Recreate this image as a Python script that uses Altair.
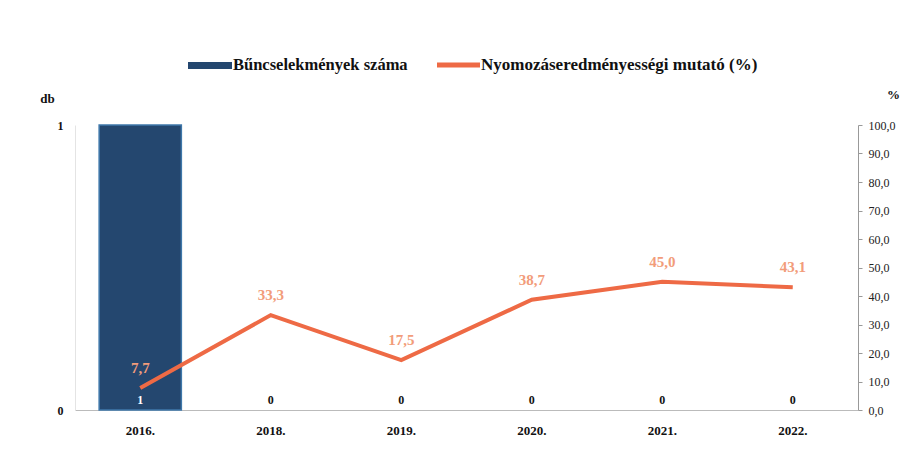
import altair as alt
import pandas as pd

years = ["2016.", "2018.", "2019.", "2020.", "2021.", "2022."]
crimes = [1, 0, 0, 0, 0, 0]
rate = [7.7, 33.3, 17.5, 38.7, 45.0, 43.1]
rate_labels = ["7,7", "33,3", "17,5", "38,7", "45,0", "43,1"]
legend_labels = ["Bűncselekmények száma", "Nyomozáseredményességi mutató (%)"]
rate_ticks = [0, 10, 20, 30, 40, 50, 60, 70, 80, 90, 100]

df = pd.DataFrame({"year": years, "crimes": crimes, "rate": rate, "rate_label": rate_labels})

FONT = "Liberation Serif"
BAR = "#24476F"
LINE = "#EE6A45"

x = alt.X("year:N", sort=years,
          scale=alt.Scale(paddingInner=0.37, paddingOuter=0.185),
          axis=alt.Axis(title=None, labelAngle=0, labelFont=FONT, labelFontWeight="bold",
                        labelFontSize=13, labelColor="#111", domainColor="#bbb",
                        ticks=False, labelPadding=14))

base = alt.Chart(df)

bars = base.mark_bar(color=BAR, strokeWidth=1.5).encode(
    x=x,
    y=alt.Y("crimes:Q", scale=alt.Scale(domain=[0, 1]),
            axis=alt.Axis(title="db", titleAngle=0, titleX=-28, titleY=-20, titleFont=FONT,
                          titleFontWeight="bold", titleFontSize=13, titleColor="#111",
                          values=[0, 1], format="d", ticks=False, domainColor="#e4e4e4",
                          grid=False, labelFont=FONT, labelFontSize=12, labelColor="#111",
                          labelPadding=12, labelFontWeight="bold")),
    stroke=alt.condition("datum.crimes > 0", alt.value("#3f78aa"), alt.value(None)),
)
bar_labels = base.mark_text(dy=-10, fontWeight="bold", fontSize=12, font=FONT).encode(
    x=x,
    y=alt.datum(0),
    text=alt.Text("crimes:Q"),
    color=alt.condition("datum.crimes > 0", alt.value("white"), alt.value("#111")),
)
left = alt.layer(bars, bar_labels)

right_axis = alt.Axis(orient="right", title="%", titleAngle=0, titleX=35, titleY=-24,
                      titleFont=FONT, titleFontSize=13, titleFontWeight="bold",
                      titleColor="#111", values=rate_ticks,
                      labelExpr="replace(format(datum.value, '.1f'), '.', ',')",
                      labelOverlap=False,
                      labelFont=FONT, labelFontSize=12, labelColor="#222",
                      domainColor="#999", tickColor="#999", tickSize=4,
                      labelPadding=6, grid=False)
yr = alt.Y("rate:Q", scale=alt.Scale(domain=[0, 100]), axis=right_axis)

line = base.mark_line(color=LINE, strokeWidth=4).encode(x=x, y=yr)
line_labels = base.mark_text(dy=-20, color="#F29C7A", fontSize=15, font=FONT,
                             fontWeight="bold").encode(x=x, y=yr, text="rate_label:N")
right = alt.layer(line, line_labels)

leg_df = pd.DataFrame({"t": [legend_labels[0]]})
leg_df2 = pd.DataFrame({"t": [legend_labels[1]]})
leg1_sw = alt.Chart(leg_df).mark_rect(color=BAR).encode(
    x=alt.value(113), x2=alt.value(157), y=alt.value(-63), y2=alt.value(-56))
leg1_tx = alt.Chart(leg_df).mark_text(align="left", baseline="middle", font=FONT,
                                      fontSize=16.5, fontWeight="bold", color="#111").encode(
    x=alt.value(158), y=alt.value(-60), text="t:N")
leg2_sw = alt.Chart(leg_df2).mark_rule(color=LINE, strokeWidth=5).encode(
    x=alt.value(362), x2=alt.value(405), y=alt.value(-60))
leg2_tx = alt.Chart(leg_df2).mark_text(align="left", baseline="middle", font=FONT,
                                       fontSize=17, fontWeight="bold", color="#111").encode(
    x=alt.value(406), y=alt.value(-60), text="t:N")
legend = alt.layer(leg1_sw, leg1_tx, leg2_sw, leg2_tx)

chart = alt.layer(left, right, legend).resolve_scale(y="independent").properties(
    width=783, height=285,
    autosize=alt.AutoSizeParams(type="none"),
    padding={"left": 67, "top": 117, "right": 48, "bottom": 48},
).configure(background="white", view=alt.ViewConfig(stroke=None))

chart.save("out.html", embed_options={"renderer": "svg", "actions": False})
